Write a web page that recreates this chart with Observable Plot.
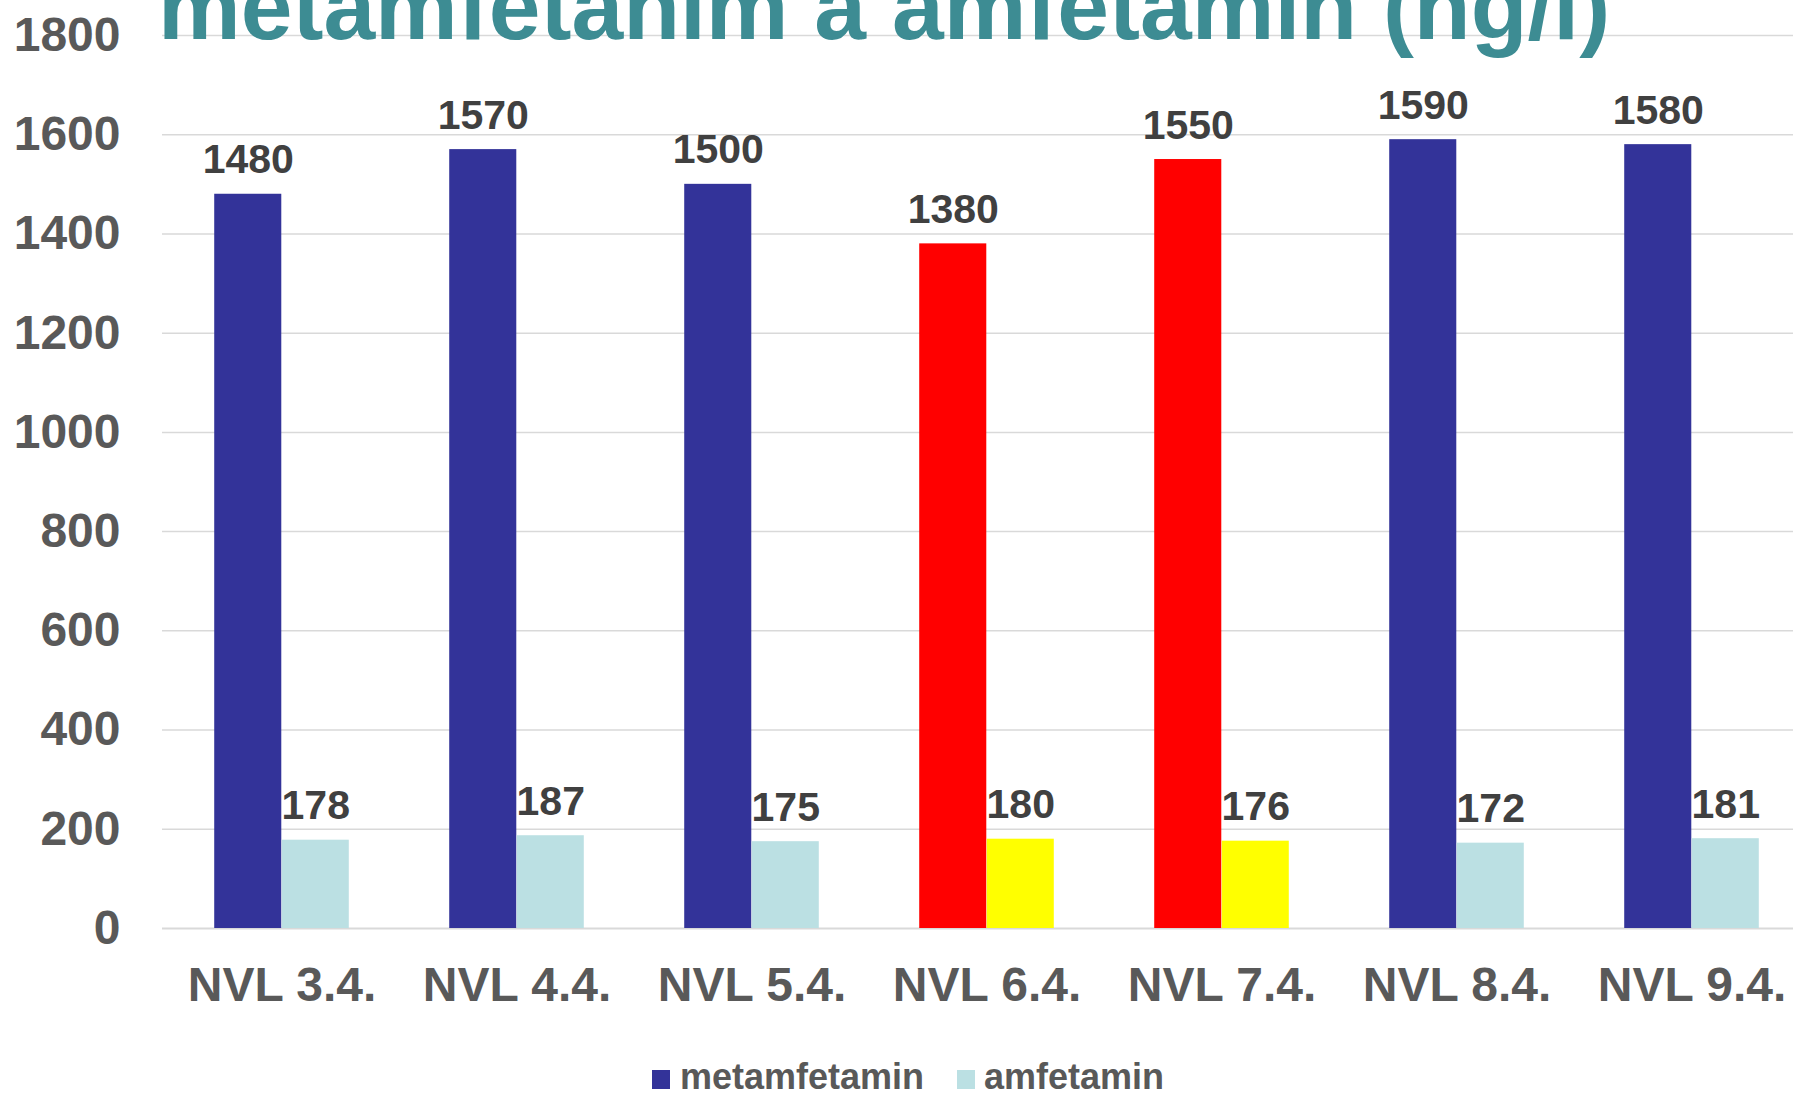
<!DOCTYPE html>
<html>
<head>
<meta charset="utf-8">
<script src="https://cdn.jsdelivr.net/npm/d3@7"></script>
<script src="https://cdn.jsdelivr.net/npm/@observablehq/plot@0.6"></script>
<style>
  html, body { margin: 0; padding: 0; background: #ffffff; overflow: hidden; }
  #wrap { position: relative; width: 1793px; height: 1097px; overflow: hidden;
          font-family: "Liberation Sans", Arial, sans-serif; }
  #chart { position: absolute; left: 0; top: 0; width: 1810px; }
  #chart svg { max-width: none !important; }
  #title { position: absolute; left: 158px; top: -39px; font-size: 93px; line-height: 93px;
           font-weight: bold; color: #3D8C93; white-space: nowrap; }
  #legend { position: absolute; left: 0; top: 1050px; width: 1793px; height: 47px; }
  .lg-sw { position: absolute; width: 18px; height: 19px; top: 20px; }
  .lg-tx { position: absolute; top: 11.5px; font-size: 36px; line-height: 30px;
           font-weight: bold; color: #595959; white-space: nowrap; }
</style>
</head>
<body>
<div id="wrap">
  <div id="chart"></div>
  <div id="title"></div>
  <div id="legend"></div>
</div>
<script>
// ---- data ----
const title = "metamfetanim a amfetamin (ng/l)";
const categories = ["NVL 3.4.", "NVL 4.4.", "NVL 5.4.", "NVL 6.4.", "NVL 7.4.", "NVL 8.4.", "NVL 9.4."];
const seriesNames = ["metamfetamin", "amfetamin"];
const metamfetamin = [1480, 1570, 1500, 1380, 1550, 1590, 1580];
const amfetamin = [178, 187, 175, 180, 176, 172, 181];
const highlighted = ["NVL 6.4.", "NVL 7.4."];
const yTicks = [0, 200, 400, 600, 800, 1000, 1200, 1400, 1600, 1800];

// ---- styles ----
const colMeth = "#333399", colAmf = "#BBE0E3";
const colMethHi = "#FF0000", colAmfHi = "#FFFF00";

const rowsM = categories.map((c, i) => ({category: c, value: metamfetamin[i],
  color: highlighted.includes(c) ? colMethHi : colMeth}));
const rowsA = categories.map((c, i) => ({category: c, value: amfetamin[i],
  color: highlighted.includes(c) ? colAmfHi : colAmf}));

const W = 1810, H = 1040, ML = 162, MR = 0, MT = 35, MB = 112;
const step = (W - ML - MR) / categories.length;
const bw = 67.5;

const plot = Plot.plot({
  width: W, height: H,
  marginLeft: ML, marginRight: MR, marginTop: MT, marginBottom: MB,
  style: {fontFamily: '"Liberation Sans", Arial, sans-serif', fontSize: "48px",
          fontWeight: "bold", color: "#595959", background: "transparent",
          overflow: "visible", maxWidth: "none"},
  x: {domain: categories, padding: 0, tickSize: 0, tickPadding: 38, label: null},
  y: {domain: [0, 1800], ticks: yTicks, tickSize: 0, tickPadding: 42,
      tickFormat: d => String(d), label: null},
  color: {type: "identity"},
  marks: [
    Plot.ruleY(yTicks.filter(d => d > 0), {y: d => d, stroke: "#D9D9D9", strokeWidth: 1.5}),
    Plot.ruleY([0], {y: d => d, stroke: "#D9D9D9", strokeWidth: 2}),
    Plot.barY(rowsM, {x: "category", y: "value", fill: "color",
      insetLeft: step / 2 - bw, insetRight: step / 2}),
    Plot.barY(rowsA, {x: "category", y: "value", fill: "color",
      insetLeft: step / 2, insetRight: step / 2 - bw}),
    Plot.text(rowsM, {x: "category", y: "value", text: d => String(d.value),
      dx: -bw / 2, dy: -21, lineAnchor: "bottom", fontSize: 41, fill: "#404040"}),
    Plot.text(rowsA, {x: "category", y: "value", text: d => String(d.value),
      dx: bw / 2, dy: -21, lineAnchor: "bottom", fontSize: 41, fill: "#404040"})
  ]
});
plot.style.maxWidth = "none";
document.getElementById("chart").appendChild(plot);
document.getElementById("title").textContent = title;

// ---- legend ----
const legend = document.getElementById("legend");
const legendPos = [{sw: 652, tx: 680, color: colMeth}, {sw: 957, tx: 984, color: colAmf}];
seriesNames.forEach((name, i) => {
  const sw = document.createElement("div");
  sw.className = "lg-sw";
  sw.style.left = legendPos[i].sw + "px";
  sw.style.background = legendPos[i].color;
  const tx = document.createElement("div");
  tx.className = "lg-tx";
  tx.style.left = legendPos[i].tx + "px";
  tx.textContent = name;
  legend.appendChild(sw);
  legend.appendChild(tx);
});
</script>
</body>
</html>
